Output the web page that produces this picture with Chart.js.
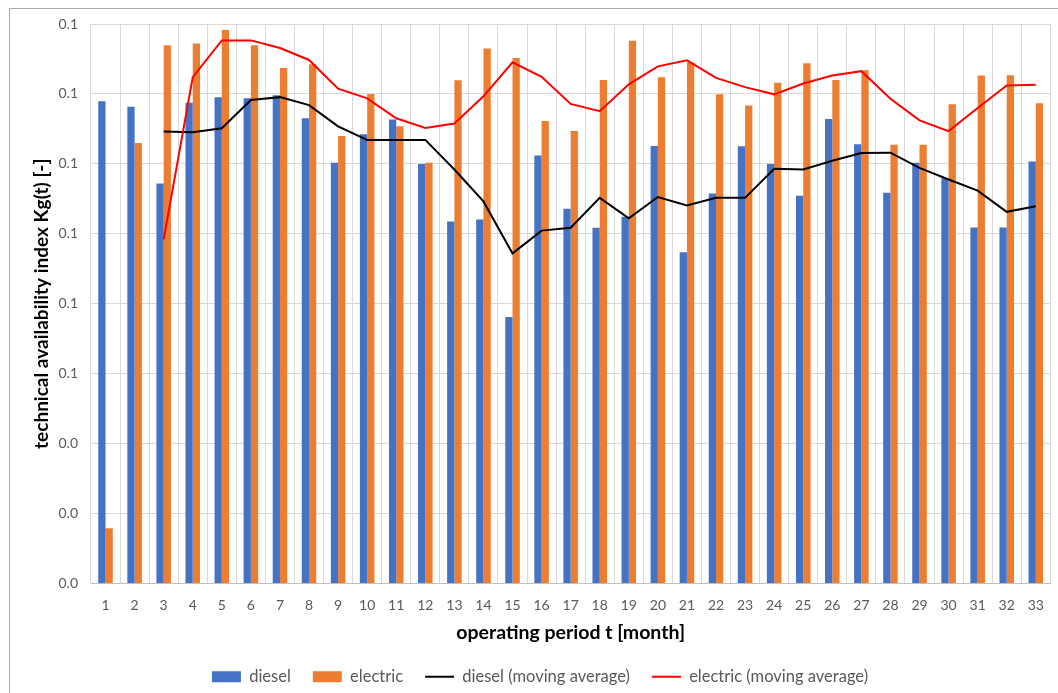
<!DOCTYPE html>
<html>
<head>
<meta charset="utf-8">
<script src="https://cdn.jsdelivr.net/npm/chart.js@4/dist/chart.umd.min.js"></script>
<style>
  html, body { margin: 0; padding: 0; background: #fff; }
  body { width: 1058px; height: 693px; position: relative; overflow: hidden; }
  #frame { position: absolute; left: 9px; top: 8px; width: 1080px; height: 720px; border: 1px solid #ababab; box-sizing: border-box; }
  #wrap { position: absolute; left: 0; top: 0; width: 1058px; height: 697px; }
</style>
</head>
<body>
<div id="frame"></div>
<div id="wrap"><canvas id="chart" width="1058" height="697"></canvas></div>
<script>
// operating months 1..33
const months = ['1','2','3','4','5','6','7','8','9','10','11','12','13','14','15','16','17',
                '18','19','20','21','22','23','24','25','26','27','28','29','30','31','32','33'];

// technical availability index Kg(t)
const diesel = [0.1207, 0.1193, 0.1001, 0.1203, 0.1217, 0.1214, 0.1222, 0.1164, 0.1053, 0.1124,
                0.1161, 0.1050, 0.0906, 0.0911, 0.0667, 0.1071, 0.0938, 0.0890, 0.0918, 0.1095,
                0.0829, 0.0976, 0.1094, 0.1050, 0.0970, 0.1162, 0.1099, 0.0978, 0.1053, 0.1014,
                0.0891, 0.0891, 0.1056];

const electric = [0.0138, 0.1102, 0.1347, 0.1351, 0.1385, 0.1347, 0.1290, 0.1299, 0.1120, 0.1225,
                  0.1144, 0.1053, 0.1259, 0.1339, 0.1315, 0.1157, 0.1132, 0.1260, 0.1358, 0.1267,
                  0.1304, 0.1224, 0.1196, 0.1253, 0.1302, 0.1260, 0.1284, 0.1098, 0.1098, 0.1199,
                  0.1271, 0.1272, 0.1202];

const dieselMovingAvg = [null, null, 0.1131, 0.1129, 0.1139, 0.1210, 0.1217, 0.1197, 0.1144, 0.1110,
                         0.1110, 0.1110, 0.1036, 0.0956, 0.0826, 0.0883, 0.0890, 0.0965, 0.0914, 0.0967,
                         0.0946, 0.0965, 0.0965, 0.1038, 0.1036, 0.1058, 0.1077, 0.1078, 0.1040, 0.1011,
                         0.0983, 0.0930, 0.0944];

const electricMovingAvg = [null, null, 0.0861, 0.1267, 0.1359, 0.1359, 0.1340, 0.1310, 0.1238, 0.1214,
                           0.1164, 0.1140, 0.1151, 0.1219, 0.1304, 0.1268, 0.1200, 0.1182, 0.1249, 0.1294,
                           0.1309, 0.1265, 0.1242, 0.1224, 0.1251, 0.1271, 0.1282, 0.1213, 0.1159, 0.1132,
                           0.1190, 0.1246, 0.1248];

// value axis labels, printed with one decimal place
const yTickLabels = ['0.0', '0.0', '0.0', '0.1', '0.1', '0.1', '0.1', '0.1', '0.1'];
const yMin = 0, yMax = 0.14, yStep = 0.0175;

const FONT = 'Lato, "Open Sans", sans-serif';
const GREY = '#595959';
const GRID = '#d9d9d9';

// centre the legend under the whole frame rather than the padded chart box
const legendShift = {
  id: 'legendShift',
  afterLayout(chart) {
    if (chart.legend) { chart.legend.left += 9; chart.legend.right += 9; }
  }
};

new Chart(document.getElementById('chart'), {
  type: 'bar',
  plugins: [legendShift],
  data: {
    labels: months,
    datasets: [
      { label: 'diesel', data: diesel, backgroundColor: '#4472c4', borderWidth: 0,
        categoryPercentage: 0.5, barPercentage: 1.0, pointStyle: 'rect', order: 3 },
      { label: 'electric', data: electric, backgroundColor: '#ed7d31', borderWidth: 0,
        categoryPercentage: 0.5, barPercentage: 1.0, pointStyle: 'rect', order: 4 },
      { type: 'line', label: 'diesel (moving average)', data: dieselMovingAvg,
        borderColor: '#000000', backgroundColor: '#000000', borderWidth: 2,
        pointRadius: 0, tension: 0, pointStyle: 'line', order: 2 },
      { type: 'line', label: 'electric (moving average)', data: electricMovingAvg,
        borderColor: '#ff0000', backgroundColor: '#ff0000', borderWidth: 2,
        pointRadius: 0, tension: 0, pointStyle: 'line', order: 1 }
    ]
  },
  options: {
    responsive: false,
    animation: false,
    layout: { padding: { left: 9, top: 24, right: 5, bottom: 2 } },
    plugins: {
      tooltip: { enabled: false },
      legend: {
        position: 'bottom',
        labels: {
          usePointStyle: true,
          pointStyleWidth: 29,
          boxHeight: 11,
          padding: 22,
          color: GREY,
          font: { family: FONT, size: 16.5 },
          sort: (a, b) => a.datasetIndex - b.datasetIndex
        }
      }
    },
    scales: {
      x: {
        grid: { color: GRID, drawTicks: false, offset: true },
        border: { color: '#bfbfbf' },
        ticks: { color: GREY, padding: 14, font: { family: FONT, size: 14 }, maxRotation: 0 },
        title: { display: true, text: 'operating period t [month]', color: '#000',
                 font: { family: FONT, size: 19.5, weight: 'bold' }, padding: { top: 4, bottom: 2 } },
        afterFit: (s) => { s.height = 63; }
      },
      y: {
        min: yMin, max: yMax,
        grid: { color: GRID, drawTicks: false },
        border: { display: false },
        ticks: {
          stepSize: yStep, color: GREY, padding: 13, font: { family: FONT, size: 14 },
          callback: (v, i) => yTickLabels[i]
        },
        title: { display: true, text: 'technical availability index Kg(t) [-]', color: '#000',
                 font: { family: FONT, size: 19, weight: 'bold' }, padding: { top: 21, bottom: 4 } },
        afterFit: (s) => { s.width = 82; }
      }
    }
  }
});
</script>
</body>
</html>
